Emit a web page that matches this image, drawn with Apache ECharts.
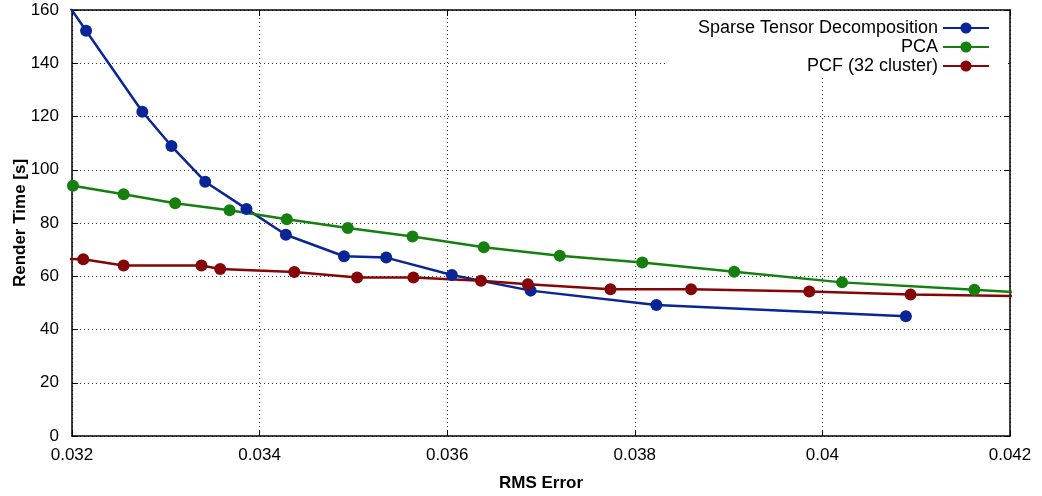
<!DOCTYPE html>
<html>
<head>
<meta charset="utf-8">
<script src="https://cdn.jsdelivr.net/npm/echarts@6/dist/echarts.min.js"></script>
<style>
  html, body { margin: 0; padding: 0; background: #fff; }
  #main { width: 1042px; height: 496px; }
</style>
</head>
<body>
<div id="main"></div>
<script>
// values (x = RMS error, y = render time in s)
var sparseX = [0.0319, 0.03215, 0.03275, 0.03306, 0.03342, 0.03386, 0.03428, 0.0349, 0.03535, 0.03605, 0.03689, 0.03823, 0.04089];
var sparseY = [165, 152.2, 121.8, 108.9, 95.5, 85.3, 75.6, 67.5, 67.0, 60.5, 54.6, 49.2, 45.0];

var pcaX = [0.03201, 0.03255, 0.0331, 0.03368, 0.03429, 0.03494, 0.03563, 0.03639, 0.0372, 0.03808, 0.03906, 0.04021, 0.04162, 0.0425];
var pcaY = [94.0, 90.8, 87.4, 84.8, 81.4, 78.1, 74.9, 70.9, 67.7, 65.2, 61.7, 57.7, 54.9, 53.1];

var pcfX = [0.0318, 0.03212, 0.03255, 0.03338, 0.03358, 0.03437, 0.03504, 0.03564, 0.03636, 0.03686, 0.03774, 0.0386, 0.03986, 0.04094, 0.0425];
var pcfY = [66.6, 66.4, 64.0, 64.0, 62.7, 61.6, 59.5, 59.5, 58.3, 57.0, 55.1, 55.1, 54.3, 53.1, 52.4];

var names = ['Sparse Tensor Decomposition', 'PCA', 'PCF (32 cluster)'];
var colors = ['#0a2596', '#16800f', '#850606'];

function pairs(xs, ys) {
    return xs.map(function (x, i) { return [x, ys[i]]; });
}

var font = 'Liberation Sans, Arial, sans-serif';
var grid = { left: 72, right: 32, top: 10, bottom: 60, containLabel: false, outerBoundsMode: 'none' };

function mkSeries(i, xs, ys) {
    return {
        name: names[i],
        type: 'line',
        data: pairs(xs, ys),
        symbol: 'circle',
        symbolSize: 12,
        clip: true,
        lineStyle: { width: 2.5, color: colors[i] },
        itemStyle: { color: colors[i] },
        emphasis: { disabled: true }
    };
}

var myChart = echarts.init(document.getElementById('main'));
myChart.setOption({
    animation: false,
    textStyle: { fontFamily: font },
    grid: grid,
    legend: {
        orient: 'vertical',
        align: 'right',
        right: 34,
        top: 11,
        padding: [8, 18, 3, 30],
        backgroundColor: '#fff',
        itemWidth: 46,
        itemHeight: 14,
        itemGap: 1,
        textStyle: { fontSize: 18, color: '#000', fontFamily: font },
        data: names
    },
    xAxis: [{
        type: 'value',
        min: 0.032,
        max: 0.042,
        interval: 0.002,
        name: 'RMS Error',
        nameLocation: 'middle',
        nameGap: 39,
        nameMoveOverlap: false,
        nameTextStyle: { fontSize: 17, fontWeight: 'bold', color: '#000' },
        axisLine: { show: true, onZero: false, lineStyle: { color: '#000', width: 1.5 } },
        axisTick: { inside: true, length: 6, lineStyle: { color: '#000' } },
        axisLabel: {
            fontSize: 17, color: '#000', margin: 11,
            formatter: function (v) { return String(+v.toFixed(3)); }
        },
        splitLine: { show: true, lineStyle: { color: '#333', type: [1, 3], width: 1 } }
    }, {
        type: 'value',
        position: 'top',
        min: 0.032,
        max: 0.042,
        interval: 0.002,
        axisLine: { show: true, onZero: false, lineStyle: { color: '#000', width: 1.5 } },
        axisTick: { inside: true, length: 6, lineStyle: { color: '#000' } },
        axisLabel: { show: false },
        splitLine: { show: false }
    }],
    yAxis: [{
        type: 'value',
        min: 0,
        max: 160,
        interval: 20,
        name: 'Render Time [s]',
        nameLocation: 'middle',
        nameGap: 43,
        nameMoveOverlap: false,
        nameTextStyle: { fontSize: 17, fontWeight: 'bold', color: '#000' },
        axisLine: { show: true, onZero: false, lineStyle: { color: '#000', width: 1.5 } },
        axisTick: { inside: true, length: 6, lineStyle: { color: '#000' } },
        axisLabel: { fontSize: 17, color: '#000', margin: 13 },
        splitLine: { show: true, lineStyle: { color: '#333', type: [1, 3], width: 1 } }
    }, {
        type: 'value',
        position: 'right',
        min: 0,
        max: 160,
        interval: 20,
        axisLine: { show: true, onZero: false, lineStyle: { color: '#000', width: 1.5 } },
        axisTick: { inside: true, length: 6, lineStyle: { color: '#000' } },
        axisLabel: { show: false },
        splitLine: { show: false }
    }],
    series: [
        mkSeries(0, sparseX, sparseY),
        mkSeries(1, pcaX, pcaY),
        mkSeries(2, pcfX, pcfY)
    ]
});
</script>
</body>
</html>
